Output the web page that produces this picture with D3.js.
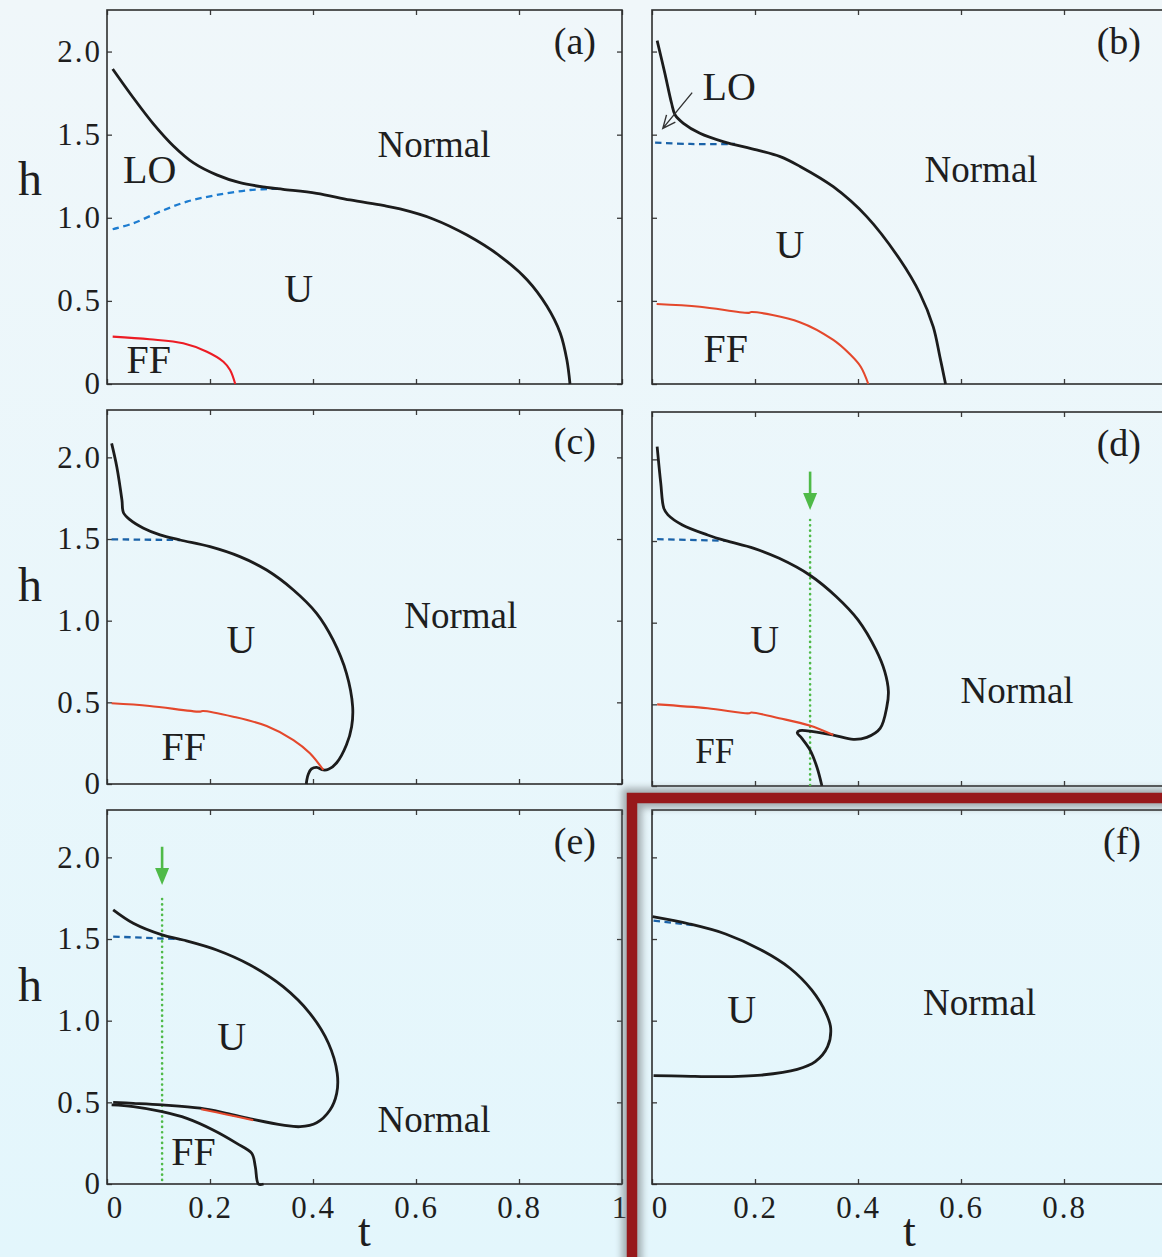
<!DOCTYPE html>
<html>
<head>
<meta charset="utf-8">
<script src="https://cdn.jsdelivr.net/npm/d3@7"></script>
<style>
  html, body { margin: 0; padding: 0; overflow: hidden; }
  svg { display: block; }
  text { font-family: "Liberation Serif", "Times New Roman", serif; fill: #1e1e1e; }
</style>
</head>
<body>
<svg id="chart" width="1162" height="1257"></svg>
<script>
// ---- axis ticks ----
const tTicks = [0, 0.2, 0.4, 0.6, 0.8, 1];
const tTickLabels = ["0", "0.2", "0.4", "0.6", "0.8", "1"];
const hTicks = [0, 0.5, 1.0, 1.5, 2.0];
const hTickLabels = ["0", "0.5", "1.0", "1.5", "2.0"];
const panelTags = ["(a)", "(b)", "(c)", "(d)", "(e)", "(f)"];

// ---- phase boundaries, [t, h] ----
// (a)
const aNormal = [[0.011,1.895],[0.051,1.722],[0.090,1.565],[0.129,1.432],[0.168,1.330],[0.213,1.258],[0.258,1.211],[0.310,1.183],[0.342,1.171],[0.407,1.147],[0.472,1.107],[0.536,1.074],[0.569,1.053],[0.633,0.993],[0.699,0.896],[0.763,0.770],[0.816,0.626],[0.854,0.469],[0.880,0.307],[0.893,0.144],[0.899,0]];
const aLO = [[0.011,0.931],[0.051,0.967],[0.103,1.037],[0.155,1.097],[0.213,1.137],[0.278,1.167],[0.336,1.175]];
const aFF = [[0.011,0.285],[0.083,0.269],[0.148,0.245],[0.194,0.194],[0.226,0.134],[0.239,0.084],[0.249,0]];
// (b)
const bNormal = [[0.010,2.066],[0.025,1.869],[0.038,1.689],[0.045,1.618],[0.061,1.568],[0.093,1.508],[0.138,1.458],[0.203,1.408],[0.249,1.368],[0.287,1.310],[0.352,1.187],[0.417,1.007],[0.482,0.746],[0.520,0.546],[0.546,0.345],[0.559,0.164],[0.570,0]];
const bLO = [[0.006,1.452],[0.074,1.444],[0.161,1.444]];
const bFF = [[0.009,0.481],[0.093,0.465],[0.188,0.428],[0.193,0.433],[0.287,0.372],[0.352,0.265],[0.384,0.180],[0.405,0.105],[0.420,0]];
const bPointer = [[0.078,1.753],[0.021,1.538]];
// (c)
const cNormal = [[0.009,2.086],[0.019,1.943],[0.029,1.739],[0.032,1.661],[0.045,1.617],[0.071,1.566],[0.103,1.525],[0.142,1.494],[0.200,1.453],[0.258,1.392],[0.310,1.310],[0.362,1.188],[0.407,1.045],[0.439,0.882],[0.465,0.678],[0.477,0.473],[0.475,0.351],[0.465,0.240],[0.446,0.130],[0.430,0.090],[0.420,0.086],[0.407,0.102],[0.397,0.092],[0.391,0.061],[0.388,0.024],[0.387,0]];
const cLO = [[0.009,1.498],[0.142,1.494]];
const cFF = [[0.009,0.494],[0.083,0.478],[0.181,0.443],[0.186,0.447],[0.245,0.412],[0.310,0.355],[0.362,0.269],[0.394,0.188],[0.420,0.086]];
// (d)
const dNormal = [[0.010,2.078],[0.017,1.854],[0.023,1.700],[0.031,1.660],[0.059,1.598],[0.108,1.537],[0.143,1.502],[0.198,1.455],[0.247,1.394],[0.306,1.292],[0.358,1.159],[0.400,1.017],[0.435,0.833],[0.452,0.700],[0.459,0.580],[0.456,0.486],[0.443,0.353],[0.417,0.298],[0.391,0.286],[0.352,0.312],[0.313,0.333],[0.287,0.339],[0.282,0.326],[0.291,0.292],[0.307,0.220],[0.320,0.118],[0.330,0]];
const dLO = [[0.010,1.511],[0.143,1.502]];
const dFF = [[0.010,0.500],[0.108,0.476],[0.188,0.445],[0.193,0.450],[0.247,0.415],[0.306,0.370],[0.352,0.312]];
const dCut = {t: 0.307, hTop: 1.629, arrowFrom: 1.925, arrowTo: 1.690};
// (e)
const eNormal = [[0.012,1.678],[0.051,1.596],[0.107,1.525],[0.148,1.494],[0.213,1.433],[0.278,1.341],[0.342,1.208],[0.394,1.045],[0.430,0.862],[0.447,0.678],[0.446,0.555],[0.433,0.453],[0.407,0.375],[0.375,0.351],[0.342,0.361],[0.284,0.396],[0.232,0.433],[0.181,0.464],[0.107,0.484],[0.051,0.494],[0.012,0.500]];
const eFFEdge = [[0.009,0.484],[0.051,0.474],[0.107,0.443],[0.155,0.402],[0.206,0.331],[0.252,0.249],[0.281,0.188],[0.288,0.106],[0.294,0],[0.304,0]];
const eFF = [[0.183,0.458],[0.232,0.426],[0.284,0.390]];
const eLO = [[0.012,1.515],[0.142,1.499]];
const eCut = {t: 0.107, hTop: 1.745, arrowFrom: 2.065, arrowTo: 1.831};
// (f)
const fNormal = [[0.001,1.637],[0.073,1.592],[0.143,1.531],[0.212,1.433],[0.268,1.321],[0.310,1.188],[0.338,1.045],[0.347,0.953],[0.341,0.841],[0.317,0.749],[0.282,0.702],[0.212,0.667],[0.129,0.657],[0.059,0.661],[0.003,0.663]];
const fLO = [[0.003,1.612],[0.087,1.582]];

// ---- region names, anchored at [t, h] ----
const aNames = [["LO",0.083,1.209],["Normal",0.635,1.366],["U",0.372,0.493],["FF",0.081,0.066]];
const bNames = [["LO",0.150,1.709],["Normal",0.639,1.215],["U",0.268,0.758],["FF",0.143,0.132]];
const cNames = [["U",0.260,0.802],["Normal",0.687,0.955],["FF",0.149,0.147]];
const dNames = [["U",0.219,0.814],["Normal",0.709,0.508],["FF",0.122,0.141]];
const eNames = [["U",0.242,0.821],["Normal",0.635,0.318],["FF",0.168,0.116]];
const fNames = [["U",0.174,0.986],["Normal",0.636,1.035]];

// ---- layout ----
const W = 515, H = 374;
const panels = [
  {left:107, top:10,  yMax:2.25, yLab:true,  xLab:false, normal:aNormal, lo:aLO, ff:aFF, ffColor:"#ec1c24", loColor:"#1d7cd0", names:aNames},
  {left:652, top:10,  yMax:2.25, yLab:false, xLab:false, normal:bNormal, lo:bLO, ff:bFF, ffColor:"#e4482c", loColor:"#1a62a8", names:bNames, pointer:bPointer},
  {left:107, top:410, yMax:2.29, yLab:true,  xLab:false, normal:cNormal, lo:cLO, ff:cFF, ffColor:"#e4482c", loColor:"#1a62a8", names:cNames},
  {left:652, top:412, yMax:2.29, yLab:false, xLab:false, normal:dNormal, lo:dLO, ff:dFF, ffColor:"#e4482c", loColor:"#1a62a8", names:dNames, cut:dCut},
  {left:107, top:810, yMax:2.29, yLab:true,  xLab:true,  normal:eNormal, lo:eLO, ff:eFF, ffColor:"#e4482c", loColor:"#1a62a8", names:eNames, cut:eCut, edge:eFFEdge},
  {left:652, top:810, yMax:2.29, yLab:false, xLab:true,  xLabMax:0.8, normal:fNormal, lo:fLO, ff:null, loColor:"#1a62a8", names:fNames}
];
const hLabelBase = [195, 601, 1001];

const svg = d3.select("#chart");
const defs = svg.append("defs");

// page background
const grad = defs.append("linearGradient").attr("id","bg").attr("x1",0).attr("y1",0).attr("x2",0).attr("y2",1);
grad.append("stop").attr("offset","0%").attr("stop-color","#f0f7fa");
grad.append("stop").attr("offset","100%").attr("stop-color","#e3f6fc");
svg.append("rect").attr("width",1162).attr("height",1257).attr("fill","url(#bg)");

const blur = defs.append("filter").attr("id","soft").attr("x","-10%").attr("y","-10%").attr("width","120%").attr("height","120%");
blur.append("feGaussianBlur").attr("stdDeviation",3.5);

const smooth = d3.line().curve(d3.curveCatmullRom.alpha(0.5));

panels.forEach((p, i) => {
  const x = d3.scaleLinear().domain([0,1]).range([0,W]);
  const y = d3.scaleLinear().domain([0,p.yMax]).range([H,0]);
  const g = svg.append("g").attr("transform",`translate(${p.left},${p.top})`);
  const line = smooth.x(d => x(d[0])).y(d => y(d[1]));

  // axes with inward ticks on all four sides
  const tickStyle = sel => {
    sel.select(".domain").remove();
    sel.selectAll(".tick line").attr("stroke","#3a3a3a").attr("stroke-width",1.3);
    sel.selectAll("text").style("font-size","31px").style("letter-spacing","2px")
      .attr("fill","#222").style("font-family",'"Liberation Serif", "Times New Roman", serif');
  };
  const xMax = p.xLabMax === undefined ? 1 : p.xLabMax;
  const xb = g.append("g").attr("transform",`translate(0,${H})`)
    .call(d3.axisBottom(x).tickValues(tTicks).tickSizeInner(-5).tickSizeOuter(0).tickPadding(12)
      .tickFormat((d,k) => (p.xLab && d <= xMax) ? tTickLabels[k] : ""));
  tickStyle(xb);
  xb.selectAll(".tick text").filter(d => d === 0).attr("dx", 8);
  xb.selectAll(".tick text").filter(d => d === 1).attr("dx", -2);
  tickStyle(g.append("g").call(d3.axisTop(x).tickValues(tTicks).tickSizeInner(-5).tickSizeOuter(0).tickFormat("")));
  tickStyle(g.append("g")
    .call(d3.axisLeft(y).tickValues(hTicks).tickSizeInner(-5).tickSizeOuter(0).tickPadding(5)
      .tickFormat((d,k) => p.yLab ? hTickLabels[k] : "")));
  tickStyle(g.append("g").attr("transform",`translate(${W},0)`)
    .call(d3.axisRight(y).tickValues(hTicks).tickSizeInner(-5).tickSizeOuter(0).tickFormat("")));
  g.append("rect").attr("width",W).attr("height",H).attr("fill","none")
    .attr("stroke","#2e2e2e").attr("stroke-width",1.6);

  // green cut line with arrow
  if (p.cut) {
    const cx = x(p.cut.t);
    g.append("line").attr("x1",cx).attr("x2",cx).attr("y1",y(p.cut.hTop)).attr("y2",y(0))
      .attr("stroke","#4fba48").attr("stroke-width",2.6).attr("stroke-linecap","round")
      .attr("stroke-dasharray","0.1 5.2");
    const tipY = y(p.cut.arrowTo);
    g.append("line").attr("x1",cx).attr("x2",cx).attr("y1",y(p.cut.arrowFrom)).attr("y2",tipY - 14)
      .attr("stroke","#4fba48").attr("stroke-width",2.6);
    g.append("path").attr("d",`M${cx-7},${tipY-17} L${cx+7},${tipY-17} L${cx},${tipY} Z`).attr("fill","#4fba48");
  }

  // boundaries
  if (p.lo) g.append("path").attr("d",line(p.lo)).attr("fill","none").attr("stroke",p.loColor)
    .attr("stroke-width",2.3).attr("stroke-dasharray","6.5 4.5");
  if (p.edge) g.append("path").attr("d",line(p.edge)).attr("fill","none").attr("stroke","#1c1c1c").attr("stroke-width",2.8);
  g.append("path").attr("d",line(p.normal)).attr("fill","none").attr("stroke","#1c1c1c")
    .attr("stroke-width",2.8).attr("stroke-linejoin","round");
  if (p.ff) g.append("path").attr("d",line(p.ff)).attr("fill","none").attr("stroke",p.ffColor).attr("stroke-width",2.1);

  // pointer arrow to the LO sliver
  if (p.pointer) {
    const [x1,y1] = [x(p.pointer[0][0]), y(p.pointer[0][1])];
    const [x2,y2] = [x(p.pointer[1][0]), y(p.pointer[1][1])];
    const ang = Math.atan2(y2-y1, x2-x1), L = 14, spread = 0.42;
    const pts = [ang+Math.PI-spread, ang+Math.PI+spread].map(a => [x2+L*Math.cos(a), y2+L*Math.sin(a)]);
    g.append("path").attr("d",`M${x1},${y1} L${x2},${y2} M${pts[0][0]},${pts[0][1]} L${x2},${y2} L${pts[1][0]},${pts[1][1]}`)
      .attr("fill","none").attr("stroke","#333").attr("stroke-width",1.4);
  }

  // region names
  g.selectAll("text.region").data(p.names).join("text").attr("class","region")
    .attr("x",d => x(d[1])).attr("y",d => y(d[2])).attr("text-anchor","middle")
    .style("font-size",d => d[0] === "Normal" ? "37px" : (i === 3 && d[0] === "FF" ? "35px" : "40px"))
    .text(d => d[0]);

  // panel tag
  g.append("text").attr("x",W-26).attr("y",44).attr("text-anchor","end").style("font-size","38px").text(panelTags[i]);

  // axis titles
  if (p.yLab) svg.append("text").attr("x",30).attr("y",hLabelBase[Math.floor(i/2)]).attr("text-anchor","middle")
    .style("font-size","48px").text("h");
  if (p.xLab) svg.append("text").attr("x",p.left + W/2).attr("y",1246).attr("text-anchor","middle")
    .style("font-size","46px").text("t");
});

// highlight frame around the last panel
const fr = svg.append("g");
fr.append("rect").attr("x",632).attr("y",798).attr("width",700).attr("height",700)
  .attr("fill","none").attr("stroke","#6a6f72").attr("stroke-width",20).attr("opacity",0.55).attr("filter","url(#soft)");
fr.append("rect").attr("x",632).attr("y",798).attr("width",700).attr("height",700)
  .attr("fill","none").attr("stroke","#97181b").attr("stroke-width",10.5);
</script>
</body>
</html>
